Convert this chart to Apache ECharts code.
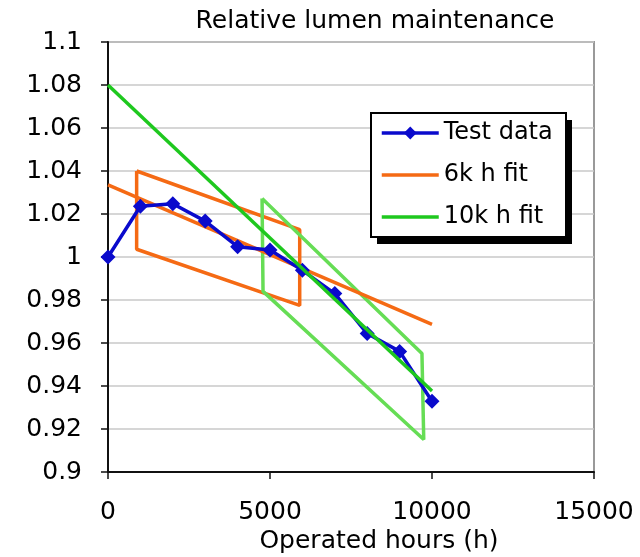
<!DOCTYPE html>
<html>
<head>
<meta charset="utf-8">
<script src="https://cdn.jsdelivr.net/npm/echarts@6/dist/echarts.min.js"></script>
<style>html,body{margin:0;padding:0;background:#fff}#c{width:640px;height:557px}</style>
</head>
<body>
<div id="c"></div>
<script>
// ---- data ----
var hours = [0, 1000, 2000, 3000, 4000, 5000, 6000, 7000, 8000, 9000, 10000];
var testData = [1.000, 1.0236, 1.0248, 1.0167, 1.0048, 1.0033, 0.9938, 0.983, 0.9644, 0.9561, 0.9329];
var fitHours = [0, 10000];
var fit6k = [1.0335, 0.9687];
var fit10k = [1.0800, 0.9377];
var box6kHours = [884, 5917, 5917, 884, 884];
var box6kValues = [1.0400, 1.0127, 0.9775, 1.0036, 1.0400];
var box10kHours = [4755, 9690, 9745, 4785, 4755];
var box10kValues = [1.0272, 0.9551, 0.9151, 0.9840, 1.0272];
var xTicks = [0, 5000, 10000, 15000];
var yTicks = [0.9, 0.92, 0.94, 0.96, 0.98, 1, 1.02, 1.04, 1.06, 1.08, 1.1];
var titleText = 'Relative lumen maintenance';
var xName = 'Operated hours (h)';
var seriesNames = ['Test data', '6k h fit', '10k h fit'];

function pairs(xs, ys) { return xs.map(function (x, i) { return [x, ys[i]]; }); }

var FONT = 'DejaVu Sans';
var chart = echarts.init(document.getElementById('c'), null, { renderer: 'canvas' });
chart.setOption({
  animation: false,
  backgroundColor: '#fff',
  textStyle: { fontFamily: FONT },
  grid: { left: 108, right: 46, top: 42, bottom: 85, show: true, borderColor: '#999', borderWidth: 2, backgroundColor: 'transparent' },
  graphic: [
    { type: 'text', x: 375, y: 21, style: { text: titleText, font: '25px "DejaVu Sans"', fill: '#000', align: 'center', verticalAlign: 'middle' } },
    { type: 'text', x: 379, y: 541, style: { text: xName, font: '25px "DejaVu Sans"', fill: '#000', align: 'center', verticalAlign: 'middle' } },
    { type: 'rect', z: 6, shape: { x: 377, y: 120, width: 195, height: 124 }, style: { fill: '#000' } },
    { type: 'rect', z: 7, shape: { x: 371, y: 113, width: 195, height: 124 }, style: { fill: '#fff', stroke: '#000', lineWidth: 2 } }
  ],
  legend: {
    z: 10,
    data: [
      { name: seriesNames[0] },
      { name: seriesNames[1], itemStyle: { opacity: 0 } },
      { name: seriesNames[2], itemStyle: { opacity: 0 } }
    ],
    orient: 'vertical',
    left: 371, top: 113,
    padding: [8, 9, 8, 9],
    itemWidth: 57, itemHeight: 16, itemGap: 18,
    lineStyle: { width: 3.5 },
    textStyle: { fontSize: 24, fontFamily: FONT, color: '#000', lineHeight: 24 }
  },
  xAxis: {
    type: 'value', min: xTicks[0], max: xTicks[xTicks.length - 1], interval: 5000,
    axisLine: { show: true, onZero: false, lineStyle: { color: '#111', width: 2 } },
    axisTick: { show: true, inside: false, length: 7, lineStyle: { color: '#111', width: 1.5 } },
    axisLabel: { fontSize: 25, color: '#000', margin: 28, fontFamily: FONT,
      formatter: function (v) { return String(v); } },
    splitLine: { show: false }
  },
  yAxis: {
    type: 'value', min: yTicks[0], max: yTicks[yTicks.length - 1], interval: 0.02,
    axisLine: { show: true, onZero: false, lineStyle: { color: '#111', width: 2 } },
    axisTick: { show: true, inside: false, length: 7, lineStyle: { color: '#111', width: 1.5 } },
    axisLabel: { fontSize: 25, color: '#000', margin: 26, fontFamily: FONT,
      formatter: function (v) { return String(Math.round(v * 100) / 100); } },
    splitLine: { show: true, lineStyle: { color: '#c8c8c8', width: 1.5 } }
  },
  series: [
    { name: '6k box', type: 'line', data: pairs(box6kHours, box6kValues), symbol: 'none', silent: true,
      lineStyle: { color: '#f56a14', width: 3.5 }, z: 2 },
    { name: '10k box', type: 'line', data: pairs(box10kHours, box10kValues), symbol: 'none', silent: true,
      lineStyle: { color: '#66dd55', width: 3.5 }, z: 2 },
    { name: seriesNames[1], type: 'line', data: pairs(fitHours, fit6k), symbol: 'none',
      itemStyle: { color: '#f56a14' }, lineStyle: { color: '#f56a14', width: 3.5 }, z: 3 },
    { name: seriesNames[0], type: 'line', data: pairs(hours, testData), symbol: 'diamond', symbolSize: 15,
      itemStyle: { color: '#0a0acc' }, lineStyle: { color: '#0a0acc', width: 3.5 }, z: 4 },
    { name: seriesNames[2], type: 'line', data: pairs(fitHours, fit10k), symbol: 'none',
      itemStyle: { color: '#1ec81e' }, lineStyle: { color: '#1ec81e', width: 3.5 }, z: 5 }
  ]
});
</script>
</body>
</html>
